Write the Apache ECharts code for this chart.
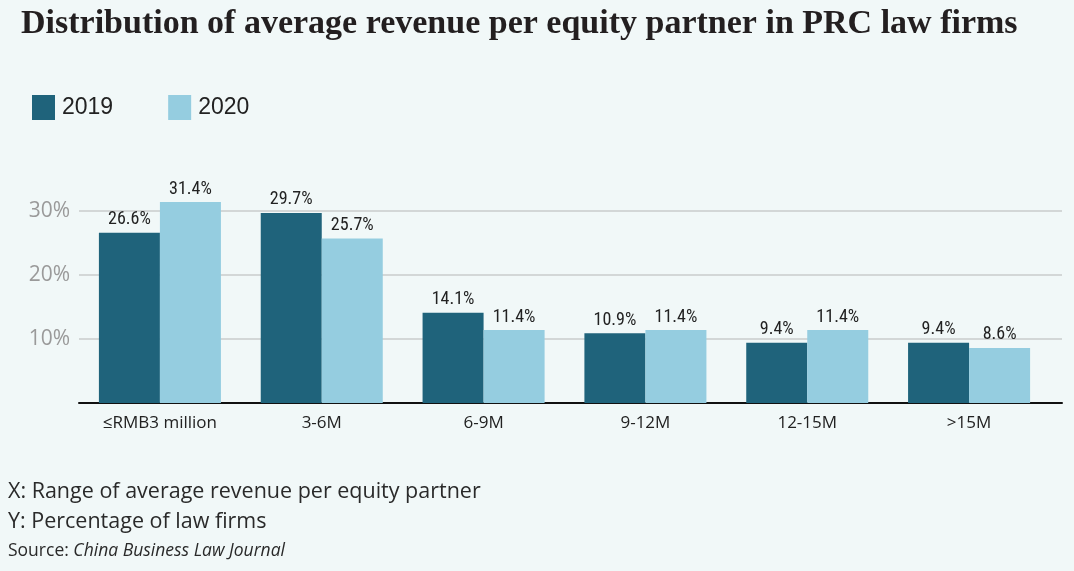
<!DOCTYPE html>
<html>
<head>
<meta charset="utf-8">
<script src="https://cdn.jsdelivr.net/npm/echarts@6/dist/echarts.min.js"></script>
<style>
  html, body { margin: 0; padding: 0; background: #f1f8f8; }
  #main { width: 1074px; height: 571px; }
</style>
</head>
<body>
<div id="main"></div>
<script>
var categories = ['≤RMB3 million', '3-6M', '6-9M', '9-12M', '12-15M', '>15M'];
var values2019 = [26.6, 29.7, 14.1, 10.9, 9.4, 9.4];
var values2020 = [31.4, 25.7, 11.4, 11.4, 11.4, 8.6];
var seriesNames = ['2019', '2020'];
var seriesColors = ['#1f637b', '#95cde0'];

function main() {
    var myChart = echarts.init(document.getElementById('main'));

    var labelStyle = {
        show: true,
        position: 'top',
        distance: 4,
        formatter: function (p) { return p.value.toFixed(1) + '%'; },
        color: '#222',
        fontFamily: 'Liberation Sans Narrow, Roboto Condensed, sans-serif',
        fontSize: 18
    };

    var option = {
        backgroundColor: '#f1f8f8',
        animation: false,
        title: {
            text: 'Distribution of average revenue per equity partner in PRC law firms',
            left: 16,
            top: 2,
            textStyle: {
                fontFamily: 'Liberation Serif, serif',
                fontWeight: 'bold',
                fontSize: 34,
                color: '#231f20'
            }
        },
        legend: {
            left: 27,
            top: 90,
            itemWidth: 23,
            itemHeight: 25,
            itemGap: 55,
            icon: 'rect',
            textStyle: {
                fontFamily: 'Liberation Sans Narrow, sans-serif',
                fontSize: 23,
                color: '#222',
                padding: [0, 0, 0, 2]
            },
            data: seriesNames
        },
        // grid 0: frame (gridlines + baseline) runs a bit past the last group
        // grid 1: the bars
        grid: [
            { left: 79, right: 12, top: 179, bottom: 168 },
            { left: 79, right: 24, top: 179, bottom: 168 }
        ],
        xAxis: [
            {
                gridIndex: 0,
                type: 'value',
                min: 0,
                max: 1,
                axisLine: { show: true, onZero: false, lineStyle: { color: '#111', width: 2 } },
                axisTick: { show: false },
                axisLabel: { show: false },
                splitLine: { show: false }
            },
            {
                gridIndex: 1,
                type: 'category',
                data: categories,
                axisLine: { show: false },
                axisTick: { show: false },
                axisLabel: {
                    margin: 12,
                    color: '#222',
                    fontFamily: 'Open Sans, sans-serif',
                    fontSize: 17
                }
            }
        ],
        yAxis: [
            {
                gridIndex: 0,
                type: 'value',
                min: 0,
                max: 35,
                interval: 10,
                axisLine: { show: false },
                axisTick: { show: false },
                splitLine: { showMinLine: false, showMaxLine: false, lineStyle: { color: '#c8cccc', width: 1.5 } },
                axisLabel: {
                    margin: 9,
                    color: '#9a9a9a',
                    fontFamily: 'Open Sans, sans-serif',
                    fontSize: 21,
                    formatter: function (v) { return (v === 0 || v > 30) ? '' : v + '%'; }
                }
            },
            {
                gridIndex: 1,
                type: 'value',
                min: 0,
                max: 35,
                interval: 10,
                show: false,
                splitLine: { show: false }
            }
        ],
        series: [
            {
                name: seriesNames[0],
                type: 'bar',
                xAxisIndex: 1,
                yAxisIndex: 1,
                data: values2019,
                barGap: '0%',
                barCategoryGap: '24.6%',
                itemStyle: { color: seriesColors[0] },
                label: labelStyle
            },
            {
                name: seriesNames[1],
                type: 'bar',
                xAxisIndex: 1,
                yAxisIndex: 1,
                data: values2020,
                itemStyle: { color: seriesColors[1] },
                label: labelStyle
            }
        ],
        graphic: [
            {
                type: 'text',
                left: 8,
                top: 481,
                style: {
                    text: 'X: Range of average revenue per equity partner',
                    font: '21.5px "Open Sans", sans-serif',
                    fill: '#2a2a2a'
                }
            },
            {
                type: 'text',
                left: 8,
                top: 511,
                style: {
                    text: 'Y: Percentage of law firms',
                    font: '21.5px "Open Sans", sans-serif',
                    fill: '#2a2a2a'
                }
            },
            {
                type: 'text',
                left: 8,
                top: 542,
                style: {
                    text: '{a|Source: }{b|China Business Law Journal}',
                    rich: {
                        a: { font: '17.5px "Open Sans", sans-serif', fill: '#2a2a2a' },
                        b: { font: 'italic 17.5px "Open Sans", sans-serif', fill: '#2a2a2a' }
                    }
                }
            }
        ]
    };

    myChart.setOption(option);
}

main();
</script>
</body>
</html>
